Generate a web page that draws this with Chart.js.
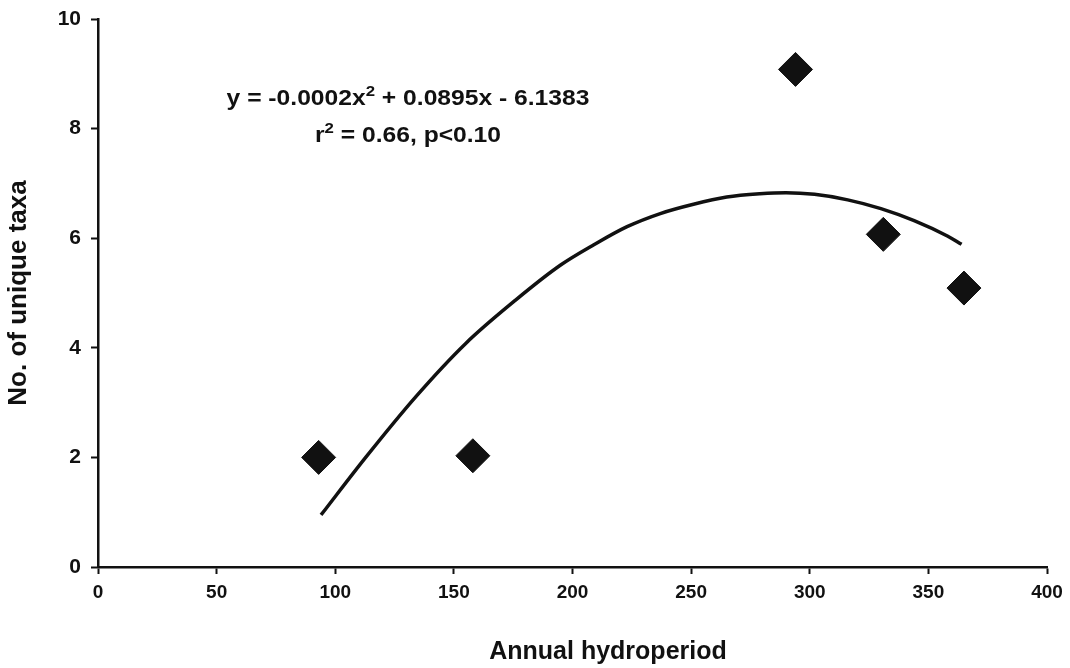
<!DOCTYPE html>
<html>
<head>
<meta charset="utf-8">
<script src="https://cdn.jsdelivr.net/npm/chart.js@4.4.1/dist/chart.umd.min.js"></script>
<style>
  html, body { margin: 0; padding: 0; background: #fff; }
  #wrap { position: relative; width: 1070px; height: 668px; }
  #chart { position: absolute; left: 0; top: 0; }
  .txt {
    position: absolute;
    font-family: "Liberation Sans", Arial, sans-serif;
    font-weight: bold;
    color: #111;
    white-space: nowrap;
  }
  #eq { left: 408px; top: 80px; font-size: 22px; line-height: 35px; text-align: center;
        transform: translateX(-50%) scaleX(1.12); }
  #eq sup { font-size: 15px; vertical-align: 0; position: relative; top: -9px; }
  #xtitle { left: 608px; top: 636px; font-size: 25px; transform: translateX(-50%); }
</style>
</head>
<body>
<div id="wrap">
  <canvas id="chart" width="1070" height="668"></canvas>
  <div id="eq" class="txt">y = -0.0002x<sup>2</sup> + 0.0895x - 6.1383<br>r<sup>2</sup> = 0.66, p&lt;0.10</div>
  <div id="xtitle" class="txt">Annual hydroperiod</div>
</div>
<script>
// observed points
const hydroperiod = [93, 158, 294, 331, 365];
const uniqueTaxa = [2.0, 2.03, 9.08, 6.07, 5.09];

// fitted curve
const fitX = [94, 113, 134, 155, 176, 195, 209, 223, 237, 251, 265, 279, 290, 302, 316, 330, 344, 358, 364];
const fitY = [0.95, 2.01, 3.11, 4.08, 4.87, 5.51, 5.88, 6.21, 6.45, 6.62, 6.75, 6.81, 6.83, 6.80, 6.70, 6.54, 6.32, 6.04, 5.89];

const xTicks = [0, 50, 100, 150, 200, 250, 300, 350, 400];
const yTicks = [0, 2, 4, 6, 8, 10];

const ink = '#111';
const fontFam = '"Liberation Sans", Arial, sans-serif';

const toXY = (xs, ys) => xs.map((x, i) => ({ x: x, y: ys[i] }));

new Chart(document.getElementById('chart'), {
    type: 'scatter',
    data: {
        datasets: [
            {
                label: 'Observed',
                data: toXY(hydroperiod, uniqueTaxa),
                pointStyle: 'rectRot',
                pointRadius: 17,
                backgroundColor: ink,
                borderColor: ink,
                borderWidth: 1,
                order: 1
            },
            {
                label: 'Fit',
                data: toXY(fitX, fitY),
                showLine: true,
                pointRadius: 0,
                borderColor: ink,
                borderWidth: 3.5,
                cubicInterpolationMode: 'monotone',
                fill: false,
                order: 2
            }
        ]
    },
    options: {
        responsive: false,
        animation: false,
        layout: { padding: { top: 19, right: 23, left: 0, bottom: 0 } },
        plugins: { legend: { display: false }, tooltip: { enabled: false } },
        scales: {
            x: {
                type: 'linear',
                min: xTicks[0],
                max: xTicks[xTicks.length - 1],
                afterBuildTicks: (s) => { s.ticks = xTicks.map(v => ({ value: v })); },
                afterFit: (s) => { s.height = 101; },
                grid: { drawOnChartArea: false, drawTicks: true, tickLength: 7, tickColor: ink, tickWidth: 2 },
                border: { display: true, color: ink, width: 2.5 },
                ticks: { color: ink, padding: 7, maxRotation: 0, font: { family: fontFam, size: 19, weight: 'bold' } }
            },
            y: {
                type: 'linear',
                min: yTicks[0],
                max: yTicks[yTicks.length - 1],
                afterBuildTicks: (s) => { s.ticks = yTicks.map(v => ({ value: v })); },
                afterFit: (s) => { s.width = 98; s.paddingTop = 0; s.paddingBottom = 0; },
                grid: { drawOnChartArea: false, drawTicks: true, tickLength: 7, tickColor: ink, tickWidth: 2 },
                border: { display: true, color: ink, width: 2.5 },
                ticks: { color: ink, padding: 10, font: { family: fontFam, size: 21, weight: 'bold', lineHeight: 1 } },
                title: {
                    display: true,
                    text: 'No. of unique taxa',
                    color: ink,
                    padding: { top: 3, bottom: 0 },
                    font: { family: fontFam, size: 26, weight: 'bold' }
                }
            }
        }
    }
});
</script>
</body>
</html>
